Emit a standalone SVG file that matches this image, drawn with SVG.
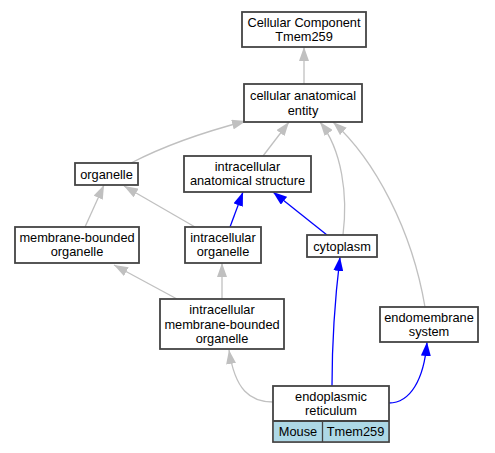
<svg xmlns="http://www.w3.org/2000/svg" width="495" height="453" viewBox="0 0 495 453">
<style>
.n{fill:#fff;stroke:#444;stroke-width:1.8}
.t{font-family:"Liberation Sans",Arial,sans-serif;font-size:12.8px;fill:#000;text-anchor:middle}
.g{fill:none;stroke:#c0c0c0;stroke-width:1.3}
.b{fill:none;stroke:#0000ff;stroke-width:1.3}
</style>
<defs>
<marker id="ag" markerUnits="userSpaceOnUse" markerWidth="14" markerHeight="10" refX="14" refY="5" orient="auto"><path d="M0,0 L14,5 L0,10 z" fill="#c0c0c0"/></marker>
<marker id="ab" markerUnits="userSpaceOnUse" markerWidth="14" markerHeight="10" refX="14" refY="5" orient="auto"><path d="M0,0 L14,5 L0,10 z" fill="#0000ff"/></marker>
</defs>
<rect width="495" height="453" fill="#fff"/>
<g id="edges">
<path class="g" marker-end="url(#ag)" d="M304,84 L304,47"/>
<path class="g" marker-end="url(#ag)" d="M131,163 C160,148 200,133 246,121"/>
<path class="g" marker-end="url(#ag)" d="M263,156 L289,122"/>
<path class="g" marker-end="url(#ag)" d="M343,235 C348,195 342,150 320,122"/>
<path class="g" marker-end="url(#ag)" d="M425,307 C412,230 375,160 333,122"/>
<path class="g" marker-end="url(#ag)" d="M85,227 L104,185"/>
<path class="g" marker-end="url(#ag)" d="M195,227 L124,186"/>
<path class="b" marker-end="url(#ab)" d="M230,227 L243,192"/>
<path class="b" marker-end="url(#ab)" d="M327,235 L273,192"/>
<path class="g" marker-end="url(#ag)" d="M177,299 L114,265"/>
<path class="g" marker-end="url(#ag)" d="M222,299 L222,263"/>
<path class="g" marker-end="url(#ag)" d="M273,402 C250,402 235,390 229,350"/>
<path class="b" marker-end="url(#ab)" d="M332,386 C332,330 336,290 340,257"/>
<path class="b" marker-end="url(#ab)" d="M389,403 C410,403 424,380 427,342"/>
</g>
<g id="n_cc"><rect class="n" x="242" y="12" width="124" height="35"/><text class="t" x="304" y="27">Cellular Component</text><text class="t" x="304" y="41">Tmem259</text></g>
<g id="n_cae"><rect class="n" x="244" y="84" width="118" height="38"/><text class="t" x="303" y="100">cellular anatomical</text><text class="t" x="303" y="115">entity</text></g>
<g id="n_org"><rect class="n" x="75" y="163" width="63" height="22"/><text class="t" x="106.5" y="178.5">organelle</text></g>
<g id="n_ias"><rect class="n" x="184" y="156" width="127" height="36"/><text class="t" x="247.5" y="170.5">intracellular</text><text class="t" x="247.5" y="185">anatomical structure</text></g>
<g id="n_mbo"><rect class="n" x="15" y="227" width="124" height="36"/><text class="t" x="77" y="241.5">membrane-bounded</text><text class="t" x="77" y="256">organelle</text></g>
<g id="n_io"><rect class="n" x="185" y="227" width="76" height="36"/><text class="t" x="223" y="241.5">intracellular</text><text class="t" x="223" y="256">organelle</text></g>
<g id="n_cyt"><rect class="n" x="307" y="235" width="70" height="22"/><text class="t" x="342" y="250.5">cytoplasm</text></g>
<g id="n_imbo"><rect class="n" x="160" y="299" width="124" height="50"/><text class="t" x="222" y="314">intracellular</text><text class="t" x="222" y="328.5">membrane-bounded</text><text class="t" x="222" y="343">organelle</text></g>
<g id="n_ems"><rect class="n" x="380" y="307" width="98" height="35"/><text class="t" x="429" y="321.5">endomembrane</text><text class="t" x="429" y="336">system</text></g>
<g id="n_er"><rect class="n" x="273" y="386" width="116" height="56"/><rect x="273.9" y="421.6" width="48.2" height="19.5" fill="#add8e6"/><rect x="322.9" y="421.6" width="65.2" height="19.5" fill="#add8e6"/><line x1="273" y1="421" x2="389" y2="421" stroke="#444" stroke-width="1.8"/><line x1="322.5" y1="421" x2="322.5" y2="442" stroke="#444" stroke-width="1.3"/><text class="t" x="331" y="400.5">endoplasmic</text><text class="t" x="331" y="415">reticulum</text><text class="t" x="298" y="436">Mouse</text><text class="t" x="355.5" y="436">Tmem259</text></g>
</svg>
